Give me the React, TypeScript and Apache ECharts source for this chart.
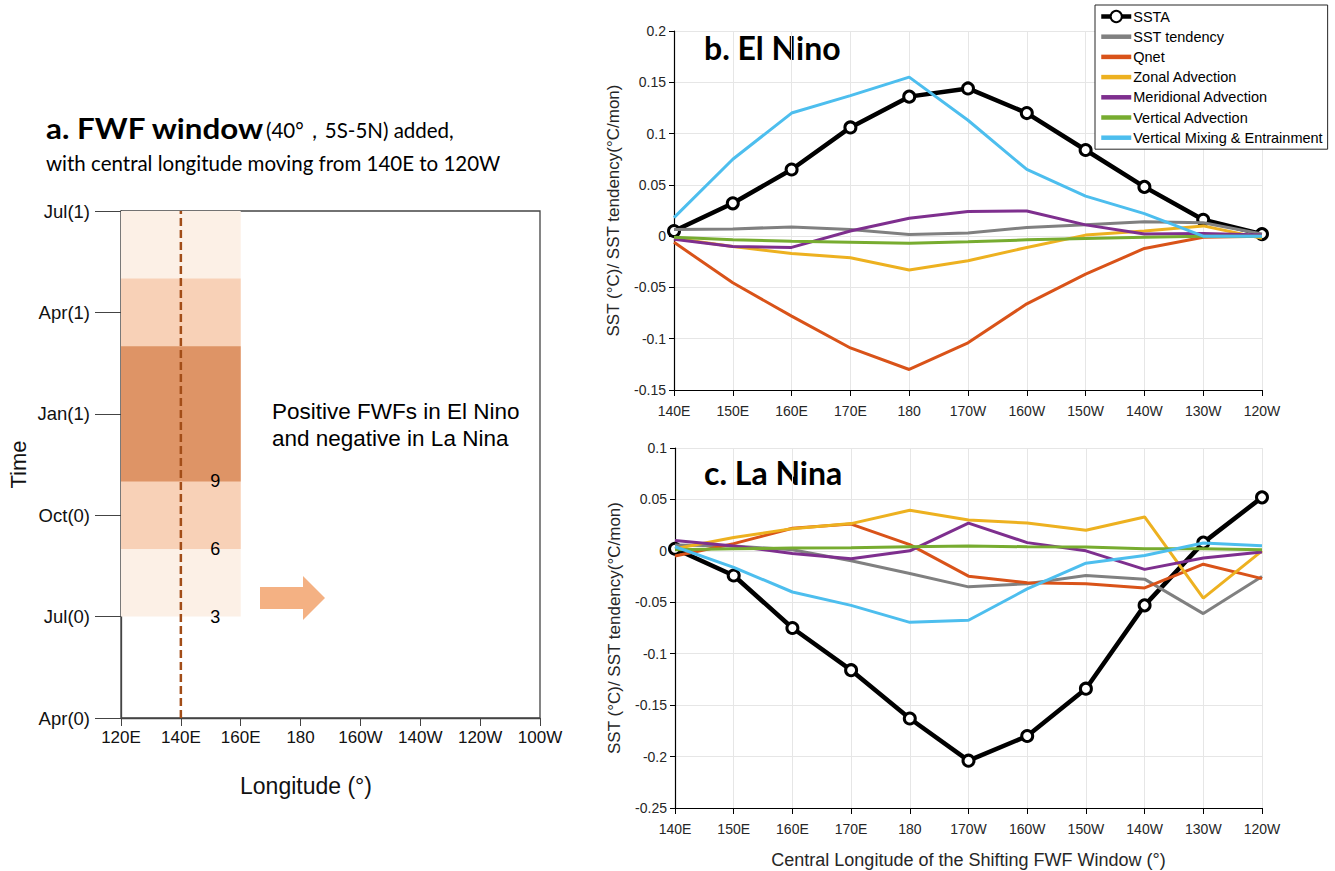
import React, { useEffect, useRef } from "react";
import * as echarts from "echarts";

// ---------- Panel a: FWF window schematic ----------
const mapLonTicks = ["120E", "140E", "160E", "180", "160W", "140W", "120W", "100W"]; // 120..260 step 20 (deg E)
const timeTicks = ["Apr(0)", "Jul(0)", "Oct(0)", "Jan(1)", "Apr(1)", "Jul(1)"]; // months 0..15 step 3
const windowCenterLon = 140;
const windowWidthLon = 40;
const windowStartMonth = [3, 5, 7];
const windowEndMonth = [15, 13, 11];
const windowLabels = ["3", "6", "9"];
const windowColors = ["#fcf0e6", "#f8d1b7", "#de9466"];

// ---------- Panels b, c ----------
const lonLabels = ["140E", "150E", "160E", "170E", "180", "170W", "160W", "150W", "140W", "130W", "120W"];
const seriesNames = [
  "SSTA",
  "SST tendency",
  "Qnet",
  "Zonal Advection",
  "Meridional Advection",
  "Vertical Advection",
  "Vertical Mixing & Entrainment",
];
const seriesColors = ["#000000", "#808080", "#d95319", "#edb120", "#7e2f8e", "#77ac30", "#4dbeee"];

// El Nino
const elSSTA = [0.005, 0.032, 0.065, 0.106, 0.136, 0.144, 0.12, 0.084, 0.048, 0.016, 0.002];
const elTend = [0.0065, 0.007, 0.009, 0.0065, 0.0016, 0.003, 0.0085, 0.011, 0.014, 0.013, 0.002];
const elQnet = [-0.006, -0.0455, -0.078, -0.109, -0.13, -0.104, -0.066, -0.037, -0.012, -0.001, 0];
const elZonal = [-0.002, -0.01, -0.017, -0.021, -0.033, -0.024, -0.011, 0.001, 0.005, 0.01, -0.002];
const elMerid = [-0.003, -0.01, -0.011, 0.005, 0.0175, 0.024, 0.0245, 0.011, 0.002, 0.0026, 0.001];
const elVAdv = [-0.001, -0.0036, -0.005, -0.006, -0.007, -0.0055, -0.0036, -0.0023, -0.001, 0, 0];
const elVME = [0.018, 0.075, 0.12, 0.137, 0.155, 0.113, 0.065, 0.039, 0.022, 0, 0];

// La Nina
const laSSTA = [0.002, -0.024, -0.075, -0.116, -0.163, -0.204, -0.18, -0.134, -0.053, 0.008, 0.052];
const laTend = [0.0056, 0.0047, 0.001, -0.0096, -0.022, -0.035, -0.032, -0.024, -0.0275, -0.061, -0.025];
const laQnet = [-0.005, 0.007, 0.022, 0.026, 0.006, -0.0246, -0.031, -0.032, -0.036, -0.013, -0.027];
const laZonal = [0.002, 0.013, 0.0216, 0.0265, 0.0395, 0.03, 0.027, 0.02, 0.033, -0.046, 0];
const laMerid = [0.01, 0.0047, -0.0025, -0.0077, 0, 0.027, 0.008, 0, -0.018, -0.007, -0.001];
const laVAdv = [0.001, 0.002, 0.0027, 0.003, 0.004, 0.0047, 0.004, 0.0037, 0.002, 0.002, 0.001];
const laVME = [0.004, -0.016, -0.04, -0.053, -0.0695, -0.0675, -0.037, -0.012, -0.0045, 0.0076, 0.005];

const elData = [elSSTA, elTend, elQnet, elZonal, elMerid, elVAdv, elVME];
const laData = [laSSTA, laTend, laQnet, laZonal, laMerid, laVAdv, laVME];

const SANS = "Liberation Sans, Arial, sans-serif";
const TITLE = "Lato, Open Sans, sans-serif";
const BAR_ICON = "path://M0,0L30,0L30,4.5L0,4.5Z";

function makeLines(data: number[][], idx: number) {
  return data.map((vals, i) => {
    const isSSTA = i === 0;
    return {
      name: seriesNames[i],
      type: "line",
      xAxisIndex: idx,
      yAxisIndex: idx,
      data: vals,
      symbol: isSSTA ? "circle" : "none",
      symbolSize: isSSTA ? 11 : 0,
      showSymbol: isSSTA,
      lineStyle: { color: seriesColors[i], width: isSSTA ? 4.5 : 3 },
      itemStyle: isSSTA
        ? { color: "#ffffff", borderColor: "#000000", borderWidth: 3 }
        : { color: seriesColors[i] },
      color: seriesColors[i],
      z: 3 + i,
      silent: true,
    };
  });
}

const rightValueAxis = (idx: number, min: number, max: number) => ({
  type: "value",
  gridIndex: idx,
  min,
  max,
  interval: 0.05,
  name: "SST (°C)/ SST tendency(°C/mon)",
  nameLocation: "middle",
  nameGap: 52,
  nameTextStyle: { fontFamily: SANS, fontSize: 17, color: "#262626" },
  axisLine: { show: true, lineStyle: { color: "#000", width: 1.2 } },
  axisTick: { show: true, inside: false, length: 5, lineStyle: { color: "#000" } },
  axisLabel: {
    fontFamily: SANS,
    fontSize: 14,
    color: "#262626",
    margin: 8,
    formatter: (v: number) => String(parseFloat(v.toFixed(3))),
  },
  splitLine: { show: true, lineStyle: { color: "#e6e6e6", width: 1 } },
});

const rightCatAxis = (idx: number, withName: boolean) => ({
  type: "category",
  gridIndex: idx,
  data: lonLabels,
  boundaryGap: false,
  name: withName ? "Central Longitude of the Shifting FWF Window (°)" : "",
  nameLocation: "middle",
  nameGap: 43,
  nameTextStyle: { fontFamily: SANS, fontSize: 18, color: "#262626" },
  axisLine: { show: true, onZero: false, lineStyle: { color: "#000", width: 1.2 } },
  axisTick: { show: true, inside: false, length: 6, alignWithLabel: true, lineStyle: { color: "#000" } },
  axisLabel: { fontFamily: SANS, fontSize: 14, color: "#262626", margin: 14, interval: 0 },
  splitLine: { show: true, interval: 0, lineStyle: { color: "#e6e6e6", width: 1 } },
});

export default function App() {
  const ref = useRef<HTMLDivElement>(null);
  useEffect(() => {
    if (!ref.current) return;
    const chart = echarts.init(ref.current, undefined, { renderer: "svg" });

    const blockData = windowStartMonth.map((s, i) => [
      windowCenterLon - windowWidthLon / 2,
      windowCenterLon + windowWidthLon / 2,
      s,
      windowEndMonth[i],
    ]);

    const legendData = seriesNames.map((n, i) =>
      i === 0
        ? { name: n, lineStyle: { width: 4.5, color: "#000" } }
        : { name: n, icon: BAR_ICON, itemStyle: { color: seriesColors[i] } }
    );

    const option: any = {
      animation: false,
      backgroundColor: "#ffffff",
      grid: [
        { left: 121, top: 211, width: 419, height: 507, show: true, borderColor: "#444", borderWidth: 1.3, backgroundColor: "transparent" },
        { left: 674, top: 31, width: 588, height: 359 },
        { left: 675, top: 448, width: 587, height: 360 },
      ],
      xAxis: [
        {
          type: "value",
          gridIndex: 0,
          min: 120,
          max: 260,
          interval: 20,
          axisLine: { show: true, lineStyle: { color: "#444", width: 1.3 } },
          axisTick: { show: true, inside: false, length: 8, lineStyle: { color: "#444" } },
          axisLabel: {
            fontFamily: SANS,
            fontSize: 17,
            color: "#111",
            margin: 11,
            formatter: (v: number) => mapLonTicks[Math.round((v - 120) / 20)],
          },
          splitLine: { show: false },
        },
        rightCatAxis(1, false),
        rightCatAxis(2, true),
      ],
      yAxis: [
        {
          type: "value",
          gridIndex: 0,
          min: 0,
          max: 15,
          interval: 3,
          name: "Time",
          nameLocation: "middle",
          nameGap: 92,
          nameTextStyle: { fontFamily: SANS, fontSize: 22, color: "#111" },
          axisLine: { show: true, lineStyle: { color: "#444", width: 1.3 } },
          axisTick: { show: true, inside: false, length: 26, lineStyle: { color: "#444" } },
          axisLabel: {
            fontFamily: SANS,
            fontSize: 18.5,
            color: "#111",
            margin: 31,
            formatter: (v: number) => timeTicks[Math.round(v / 3)],
          },
          splitLine: { show: false },
        },
        rightValueAxis(1, -0.15, 0.2),
        rightValueAxis(2, -0.25, 0.1),
      ],
      legend: {
        show: true,
        orient: "vertical",
        left: 1095,
        top: 5,
        data: legendData,
        itemWidth: 30,
        itemHeight: 14,
        itemGap: 5.2,
        padding: [4, 5, 4, 4],
        backgroundColor: "#ffffff",
        borderColor: "#262626",
        borderWidth: 1,
        textStyle: { fontFamily: SANS, fontSize: 14.5, color: "#000", padding: [0, 0, 0, -3] },
        selectedMode: false,
      },
      series: [
        {
          type: "custom",
          xAxisIndex: 0,
          yAxisIndex: 0,
          data: blockData,
          silent: true,
          z: 1,
          renderItem: (params: any, api: any) => {
            const p0 = api.coord([api.value(0), api.value(3)]);
            const p1 = api.coord([api.value(1), api.value(2)]);
            const i = params.dataIndex;
            const lp = api.coord([windowCenterLon + 11.5, api.value(2)]);
            return {
              type: "group",
              children: [
                {
                  type: "rect",
                  shape: { x: p0[0], y: p0[1], width: p1[0] - p0[0], height: p1[1] - p0[1] },
                  style: { fill: windowColors[i] },
                },
                {
                  type: "text",
                  x: lp[0],
                  y: lp[1],
                  z2: 10,
                  style: {
                    text: windowLabels[i],
                    fontFamily: SANS,
                    fontSize: 18,
                    fill: "#000",
                    align: "center",
                    verticalAlign: "middle",
                  },
                },
              ],
            };
          },
        },
        {
          type: "line",
          xAxisIndex: 0,
          yAxisIndex: 0,
          data: [
            [windowCenterLon, 0],
            [windowCenterLon, 15],
          ],
          symbol: "none",
          silent: true,
          z: 2,
          clip: false,
          lineStyle: { color: "#a24d18", width: 2.5, type: [8, 4] },
        },
        ...makeLines(elData, 1),
        ...makeLines(laData, 2),
      ],
      graphic: [
        {
          type: "text",
          x: 46,
          y: 128,
          scaleX: 1.12,
          style: { text: "a. FWF window", fontFamily: TITLE, fontWeight: "bold", fontSize: 28, fill: "#000", verticalAlign: "middle" },
        },
        {
          type: "text",
          x: 266,
          y: 130,
          style: { text: "(40°，5S-5N) added,", fontFamily: TITLE, fontSize: 20.5, fill: "#000", verticalAlign: "middle" },
        },
        {
          type: "text",
          x: 46,
          y: 163,
          style: { text: "with central longitude moving from 140E to 120W", fontFamily: TITLE, fontSize: 20.5, fill: "#000", verticalAlign: "middle" },
        },
        {
          type: "text",
          x: 306,
          y: 786,
          style: { text: "Longitude (°)", fontFamily: SANS, fontSize: 23, fill: "#111", align: "center", verticalAlign: "middle" },
        },
        {
          type: "text",
          x: 272,
          y: 411,
          style: { text: "Positive FWFs in El Nino", fontFamily: SANS, fontSize: 22.5, fill: "#000", verticalAlign: "middle" },
        },
        {
          type: "text",
          x: 272,
          y: 438,
          style: { text: "and negative in La Nina", fontFamily: SANS, fontSize: 22.5, fill: "#000", verticalAlign: "middle" },
        },
        {
          type: "polygon",
          shape: {
            points: [
              [260, 587],
              [303, 587],
              [303, 576],
              [325, 598],
              [303, 620],
              [303, 609],
              [260, 609],
            ],
          },
          style: { fill: "#f4b183" },
        },
        {
          type: "text",
          x: 704,
          y: 47,
          style: { text: "b. El Nino", fontFamily: TITLE, fontWeight: "bold", fontSize: 32, fill: "#000", verticalAlign: "middle" },
        },
        {
          type: "text",
          x: 704,
          y: 472,
          style: { text: "c. La Nina", fontFamily: TITLE, fontWeight: "bold", fontSize: 32, fill: "#000", verticalAlign: "middle" },
        },
      ],
    };

    chart.setOption(option);
    return () => chart.dispose();
  }, []);

  return (
    <div
      ref={ref}
      style={{ position: "absolute", left: 0, top: 0, width: 1335, height: 871, background: "#fff" }}
    />
  );
}
